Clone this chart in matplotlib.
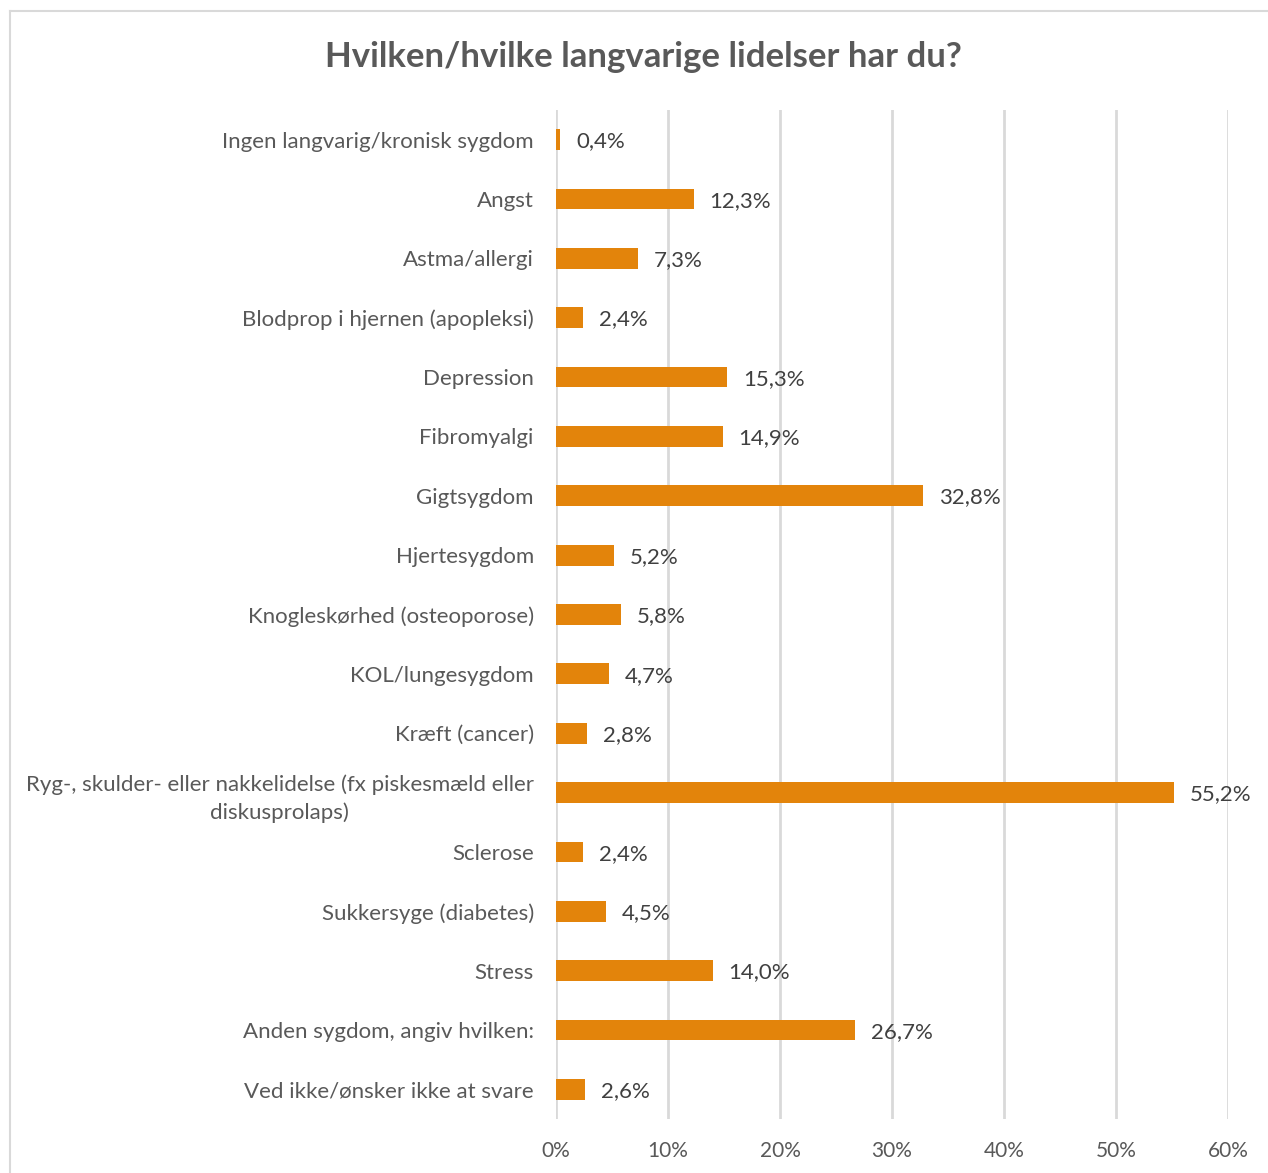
import matplotlib
matplotlib.use("Agg")
import matplotlib.pyplot as plt
from matplotlib.lines import Line2D

categories = [
    "Ingen langvarig/kronisk sygdom",
    "Angst",
    "Astma/allergi",
    "Blodprop i hjernen (apopleksi)",
    "Depression",
    "Fibromyalgi",
    "Gigtsygdom",
    "Hjertesygdom",
    "Knogleskørhed (osteoporose)",
    "KOL/lungesygdom",
    "Kræft (cancer)",
    "Ryg-, skulder- eller nakkelidelse (fx piskesmæld eller\ndiskusprolaps)",
    "Sclerose",
    "Sukkersyge (diabetes)",
    "Stress",
    "Anden sygdom, angiv hvilken:",
    "Ved ikke/ønsker ikke at svare",
]
values = [0.4, 12.3, 7.3, 2.4, 15.3, 14.9, 32.8, 5.2, 5.8, 4.7, 2.8, 55.2, 2.4, 4.5, 14.0, 26.7, 2.6]
xticks = [0, 10, 20, 30, 40, 50, 60]
title = "Hvilken/hvilke langvarige lidelser har du?"

plt.rcParams['font.family'] = ['Lato', 'DejaVu Sans']

W, H = 1268, 1173
fig = plt.figure(figsize=(W / 100, H / 100), dpi=100)
ax = fig.add_axes([556 / W, 1 - 1119 / H, (1228 - 556) / W, (1119 - 110) / H])

y = list(range(len(categories)))
ax.barh(y, values, height=0.35, color="#E3840B", zorder=3)
ax.set_ylim(len(categories) - 0.5, -0.5)
ax.set_xlim(0, 60)
ax.set_xticks(xticks)
ax.set_xticklabels([f"{t}%" for t in xticks], fontsize=15, color="#595959")
ax.set_yticks(y)
ax.set_yticklabels(categories, fontsize=16, color="#595959", linespacing=1.5)
ax.tick_params(axis="both", length=0)
ax.tick_params(axis="x", pad=16)
ax.tick_params(axis="y", pad=16)
for lbl in ax.get_yticklabels():
    lbl.set_horizontalalignment("right")
    lbl.set_multialignment("center")
ax.grid(axis="x", color="#D9D9D9", linewidth=2, zorder=0)
for s in ax.spines.values():
    s.set_visible(False)

for yi, v in zip(y, values):
    ax.text(v + 1.4, yi + 0.03, f"{v:.1f}%".replace(".", ","), va="center", ha="left",
            fontsize=16, color="#404040")

fig.text(643 / W, 1 - 57 / H, title, ha="center", va="center", fontsize=25,
         fontweight="bold", color="#595959")

# outer chart frame
fig.add_artist(Line2D([10 / W, 10 / W], [0, 1 - 11 / H], transform=fig.transFigure,
                      color="#D9D9D9", linewidth=1.5))
fig.add_artist(Line2D([10 / W, 1], [1 - 11 / H, 1 - 11 / H], transform=fig.transFigure,
                      color="#D9D9D9", linewidth=1.5))

fig.savefig("out.png", dpi=100, facecolor="white")
